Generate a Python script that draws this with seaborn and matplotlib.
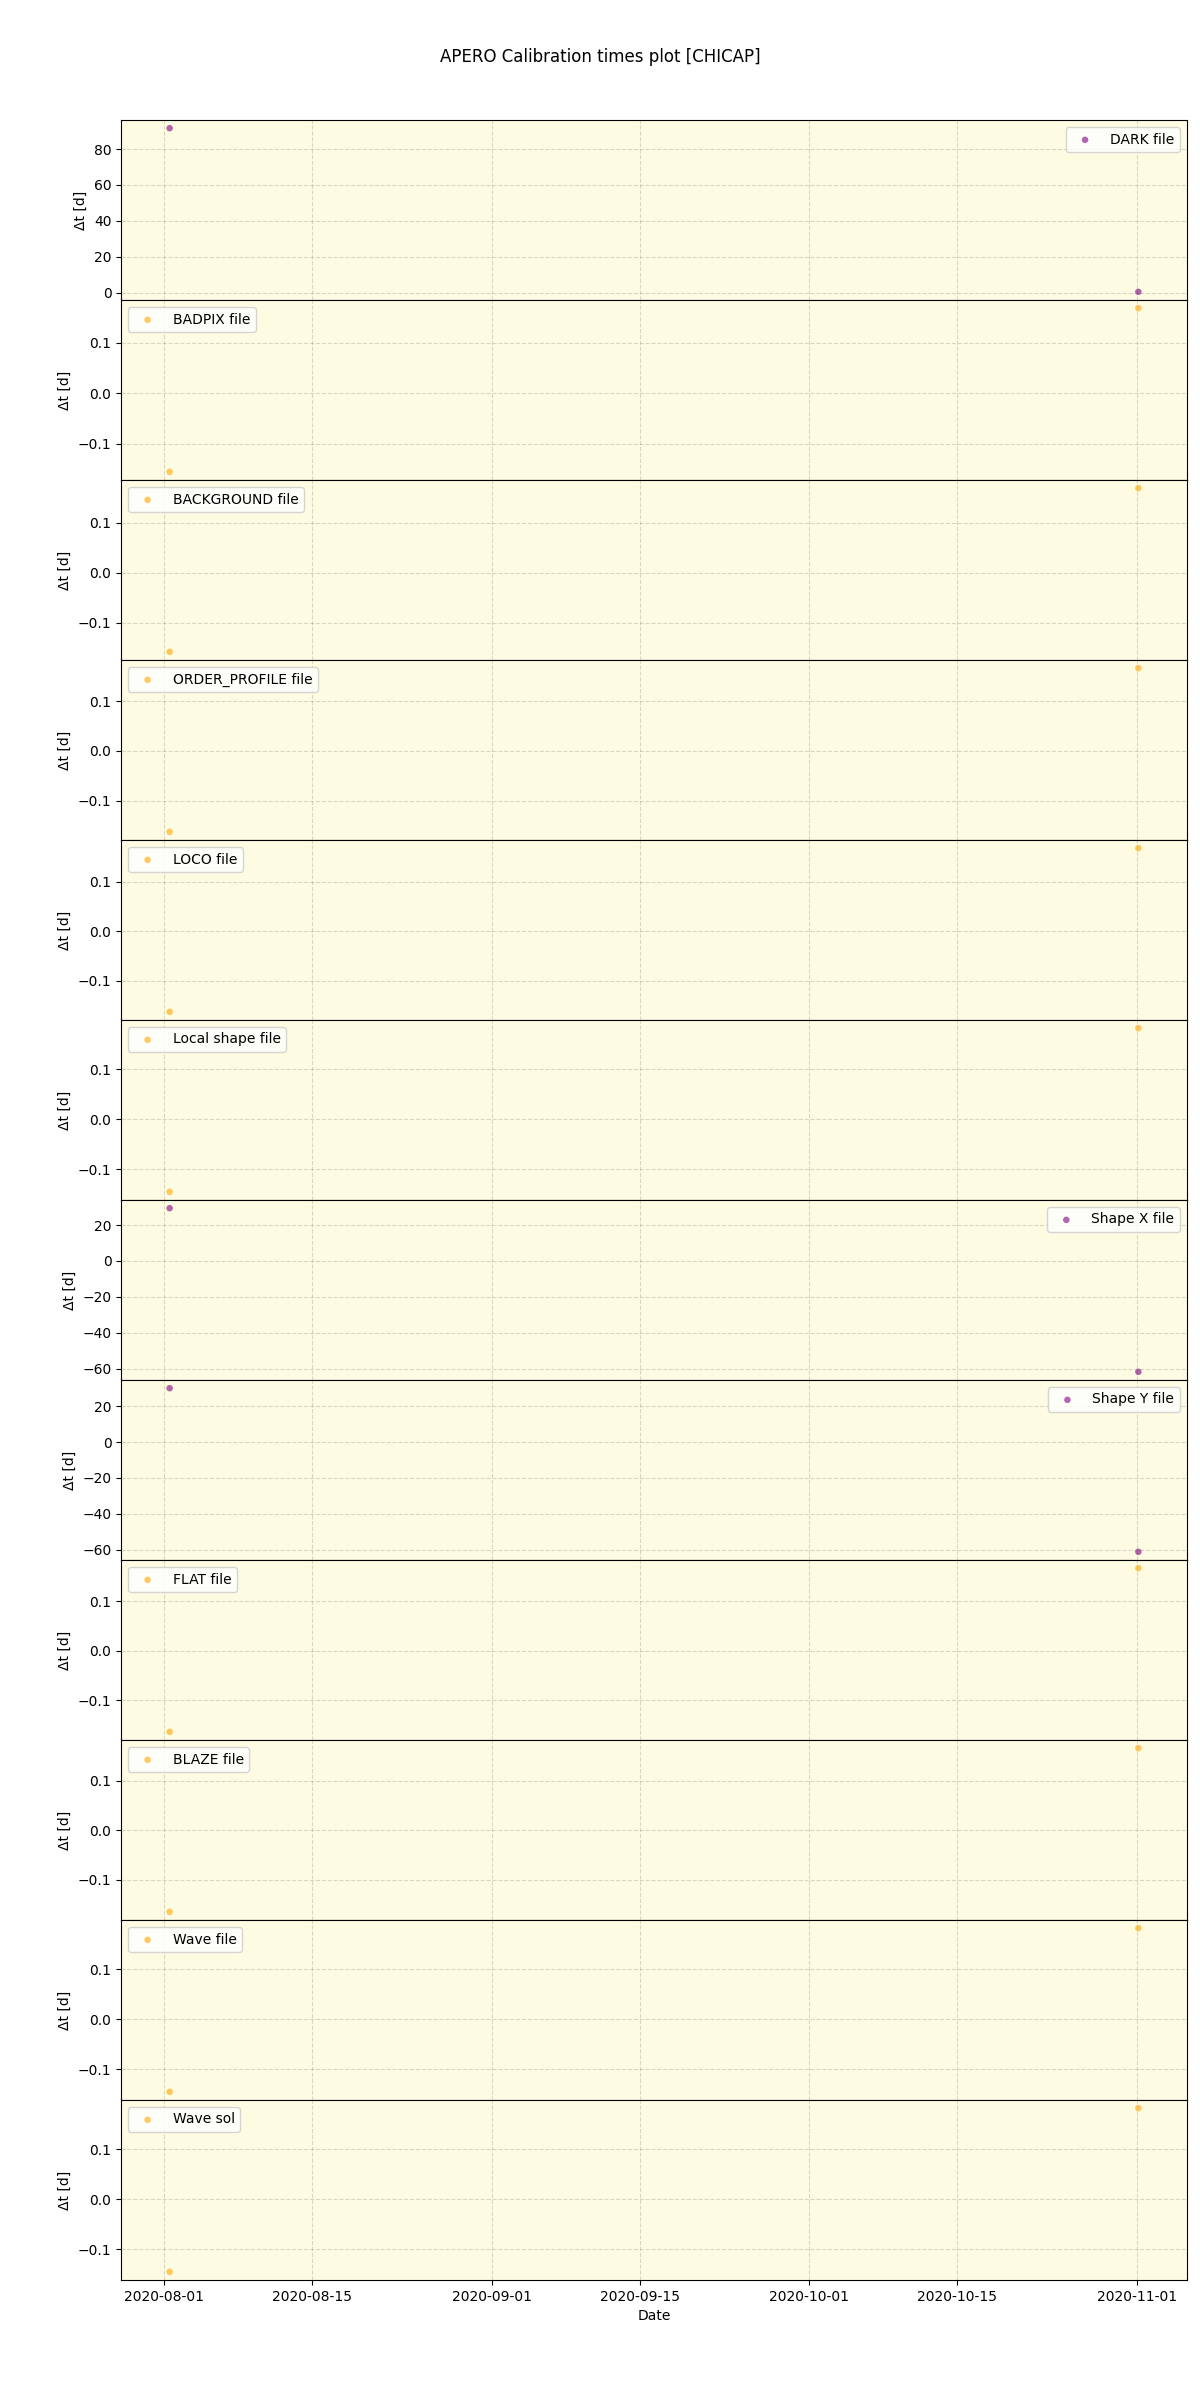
import pandas as pd
import seaborn as sns
import matplotlib.pyplot as plt
import matplotlib.dates as mdates

# observation dates for the two calibration nights
obs_dates = pd.to_datetime(['2020-08-01 13:00', '2020-11-01 04:00'])

# panel names, legend placement, colours and dt values (days)
file_labels = ['DARK file', 'BADPIX file', 'BACKGROUND file', 'ORDER_PROFILE file',
               'LOCO file', 'Local shape file', 'Shape X file', 'Shape Y file',
               'FLAT file', 'BLAZE file', 'Wave file', 'Wave sol']
legend_locs = ['upper right', 'upper left', 'upper left', 'upper left',
               'upper left', 'upper left', 'upper right', 'upper right',
               'upper left', 'upper left', 'upper left', 'upper left']
point_colors = ['purple', 'orange', 'orange', 'orange', 'orange', 'orange',
                'purple', 'purple', 'orange', 'orange', 'orange', 'orange']

dark_dt = [91.6, 0.5]
badpix_dt = [-0.156, 0.168]
background_dt = [-0.158, 0.169]
order_profile_dt = [-0.162, 0.166]
loco_dt = [-0.162, 0.167]
local_shape_dt = [-0.145, 0.182]
shape_x_dt = [29.4, -61.7]
shape_y_dt = [30.0, -61.1]
flat_dt = [-0.163, 0.166]
blaze_dt = [-0.164, 0.165]
wave_file_dt = [-0.145, 0.182]
wave_sol_dt = [-0.145, 0.182]

all_dt = [dark_dt, badpix_dt, background_dt, order_profile_dt, loco_dt,
          local_shape_dt, shape_x_dt, shape_y_dt, flat_dt, blaze_dt,
          wave_file_dt, wave_sol_dt]

fig, axes = plt.subplots(12, 1, sharex=True, figsize=(12, 24), dpi=100)

for ax, label, loc, col, dt in zip(axes, file_labels, legend_locs, point_colors, all_dt):
    df = pd.DataFrame({'date': obs_dates, 'dt': dt})
    sns.scatterplot(x='date', y='dt', data=df, ax=ax, color=col, alpha=0.6,
                    s=22, edgecolor='none', label=label, zorder=3)
    ax.set_facecolor('#fdfbe1')
    ax.grid(True, linestyle='--', color='grey', alpha=0.3, zorder=0)
    ax.set_axisbelow(True)
    ax.set_ylabel('Δt [d]')
    ax.set_xlabel('')
    ax.legend(loc=loc)

axes[-1].xaxis.set_major_formatter(mdates.DateFormatter('%Y-%m-%d'))
axes[-1].set_xlabel('Date')

fig.suptitle('APERO Calibration times plot [CHICAP]')
plt.subplots_adjust(hspace=0, left=0.101, right=0.989, top=0.950, bottom=0.05)
plt.savefig('out.png')
